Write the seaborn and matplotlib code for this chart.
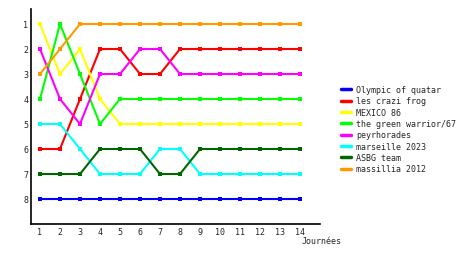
import numpy as np
import pandas as pd
import matplotlib
matplotlib.use("Agg")
import matplotlib.pyplot as plt
import seaborn as sns
from matplotlib.lines import Line2D

journees = list(range(1, 15))
teams = ["Olympic of quatar", "les crazi frog", "MEXICO 86", "the green warrior/67",
         "peyrhorades", "marseille 2023", "ASBG team", "massillia 2012"]
olympic = [8, 8, 8, 8, 8, 8, 8, 8, 8, 8, 8, 8, 8, 8]
crazi = [6, 6, 4, 2, 2, 3, 3, 2, 2, 2, 2, 2, 2, 2]
mexico = [1, 3, 2, 4, 5, 5, 5, 5, 5, 5, 5, 5, 5, 5]
green = [4, 1, 3, 5, 4, 4, 4, 4, 4, 4, 4, 4, 4, 4]
peyr = [2, 4, 5, 3, 3, 2, 2, 3, 3, 3, 3, 3, 3, 3]
marseille = [5, 5, 6, 7, 7, 7, 6, 6, 7, 7, 7, 7, 7, 7]
asbg = [7, 7, 7, 6, 6, 6, 7, 7, 6, 6, 6, 6, 6, 6]
massillia = [3, 2, 1, 1, 1, 1, 1, 1, 1, 1, 1, 1, 1, 1]
series = [olympic, crazi, mexico, green, peyr, marseille, asbg, massillia]
colors = ["#0000ff", "#ff0000", "#ffff00", "#00ff00", "#ff00ff", "#00ffff", "#006600", "#ff9900"]

df = pd.DataFrame({
    "Journée": journees * len(teams),
    "Rang": sum(series, []),
    "Equipe": [t for t in teams for _ in journees],
})

sns.set_style("white")
plt.rcParams["font.family"] = ["DejaVu Sans Mono"]

fig = plt.figure(figsize=(4.6, 2.55), dpi=100)
ax = fig.add_axes([31 / 460, 30 / 255, 289 / 460, 215 / 255])
sns.lineplot(data=df, x="Journée", y="Rang", hue="Equipe", hue_order=teams,
             palette=dict(zip(teams, colors)), marker="s", markersize=2.5,
             markeredgewidth=0, linewidth=1.5, ax=ax, legend=False)

ax.set_xlim(0.55, 15)
ax.set_ylim(9, 0.4)
ax.set_xticks(journees)
ax.set_yticks(range(1, 9))
ax.tick_params(axis="both", length=0, labelsize=6, pad=2)
ax.set_xlabel("")
ax.set_ylabel("")
for s in ["top", "right"]:
    ax.spines[s].set_visible(False)
for s in ["left", "bottom"]:
    ax.spines[s].set_color("black")
    ax.spines[s].set_linewidth(1.2)
fig.text(302 / 460, 1 - 242 / 255, "Journées", fontsize=6, va="center", ha="left")

handles = [Line2D([0], [0], color=c, lw=2.5) for c in colors]
fig.legend(handles, teams, loc="upper left", bbox_to_anchor=(337 / 460, 1 - 82 / 255),
           frameon=False, fontsize=6, handlelength=1.2, handletextpad=0.6,
           labelspacing=0.28, borderpad=0)

fig.savefig("out.png", dpi=100)
